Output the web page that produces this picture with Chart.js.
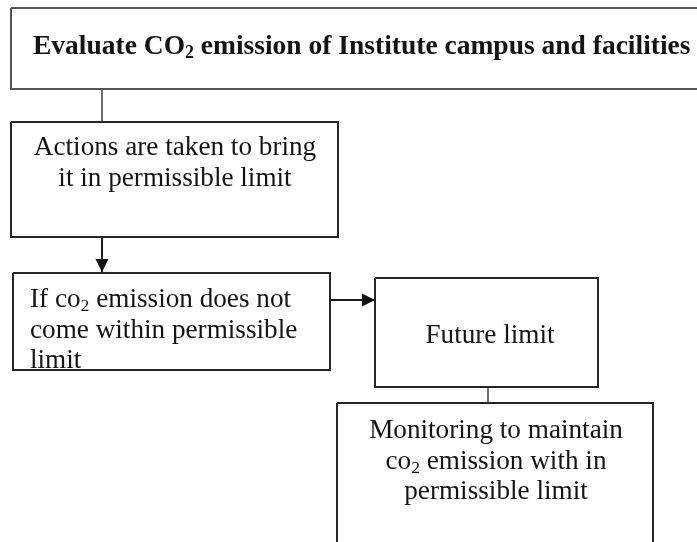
<!DOCTYPE html>
<html>
<head>
<meta charset="utf-8">
<style>
  html, body { margin: 0; padding: 0; background: #ffffff; }
  #wrap { width: 697px; height: 542px; position: relative; }
</style>
<script src="https://cdn.jsdelivr.net/npm/chart.js@4"></script>
</head>
<body>
<div id="wrap"><canvas id="c" width="697" height="542"></canvas></div>
<script>
// ---- Flowchart content (diagram units; y grows downward) ----
const nodeLabels = [
  ["Evaluate CO\u2082 emission of Institute campus and facilities"],
  ["Actions are taken to bring", "it in permissible limit"],
  ["If co\u2082 emission does not", "come within permissible", "limit"],
  ["Future limit"],
  ["Monitoring to maintain", "co\u2082 emission with in", "permissible limit"]
];
const nodeLeft   = [11, 11, 13, 375, 337];
const nodeTop    = [8, 122, 273, 278, 403];
const nodeRight  = [720, 338, 330, 598, 653];
const nodeBottom = [89, 237, 370, 387, 560];
const nodeAlign  = ["left", "center", "left", "center", "center"];
const nodeBold   = [true, false, false, false, false];
const textX      = [33, 175, 30, 490, 496];
const firstBaseline = [54, 155, 307, 343, 438];

// connectors: [fromX, fromY] -> [toX, toY], arrow flag
const linkFrom  = [[102, 89], [102, 237], [330, 300], [488, 387]];
const linkTo    = [[102, 122], [102, 272], [375, 300], [488, 403]];
const linkArrow = [false, true, true, false];
const linkGray  = [true, false, false, true];

// ---- datasets built from the arrays ----
const datasets = [];
for (let i = 0; i < nodeLabels.length; i++) {
  datasets.push({
    label: "box" + i,
    data: [
      {x: nodeLeft[i], y: nodeTop[i]},
      {x: nodeRight[i], y: nodeTop[i]},
      {x: nodeRight[i], y: nodeBottom[i]},
      {x: nodeLeft[i], y: nodeBottom[i]},
      {x: nodeLeft[i], y: nodeTop[i]}
    ],
    showLine: true,
    borderColor: i === 0 ? "#555555" : "#262626",
    borderWidth: 2,
    pointRadius: 0,
    fill: false,
    tension: 0
  });
}
for (let j = 0; j < linkFrom.length; j++) {
  datasets.push({
    label: "link" + j,
    data: [{x: linkFrom[j][0], y: linkFrom[j][1]}, {x: linkTo[j][0], y: linkTo[j][1]}],
    showLine: true,
    borderColor: linkGray[j] ? "#6e6e6e" : "#1a1a1a",
    borderWidth: 2,
    pointRadius: 0,
    fill: false
  });
}

const flowPlugin = {
  id: "flowText",
  afterDatasetsDraw(chart) {
    const ctx = chart.ctx;
    const sx = chart.scales.x, sy = chart.scales.y;
    ctx.save();
    // arrowheads
    ctx.fillStyle = "#111111";
    for (let j = 0; j < linkFrom.length; j++) {
      if (!linkArrow[j]) continue;
      const x0 = sx.getPixelForValue(linkFrom[j][0]), y0 = sy.getPixelForValue(linkFrom[j][1]);
      const x1 = sx.getPixelForValue(linkTo[j][0]), y1 = sy.getPixelForValue(linkTo[j][1]);
      const ang = Math.atan2(y1 - y0, x1 - x0);
      const L = 13, W = 6.5;
      ctx.beginPath();
      ctx.moveTo(x1, y1);
      ctx.lineTo(x1 - L * Math.cos(ang) + W * Math.sin(ang), y1 - L * Math.sin(ang) - W * Math.cos(ang));
      ctx.lineTo(x1 - L * Math.cos(ang) - W * Math.sin(ang), y1 - L * Math.sin(ang) + W * Math.cos(ang));
      ctx.closePath();
      ctx.fill();
    }
    // text
    const lineH = 30.5;
    const fam = '"Liberation Serif", "Times New Roman", serif';
    ctx.fillStyle = "#141414";
    ctx.textBaseline = "alphabetic";
    ctx.textAlign = "left";
    function segs(str) { return str.split(/(\u2082)/).filter(s => s.length); }
    function measure(str, weight, size) {
      let w = 0;
      for (const s of segs(str)) {
        if (s === "\u2082") { ctx.font = weight + " " + (size * 0.65) + "px " + fam; w += ctx.measureText("2").width; }
        else { ctx.font = weight + " " + size + "px " + fam; w += ctx.measureText(s).width; }
      }
      return w;
    }
    function draw(str, x, y, weight, size) {
      let cx = x;
      for (const s of segs(str)) {
        if (s === "\u2082") {
          ctx.font = weight + " " + (size * 0.65) + "px " + fam;
          ctx.fillText("2", cx, y + 4);
          cx += ctx.measureText("2").width;
        } else {
          ctx.font = weight + " " + size + "px " + fam;
          ctx.fillText(s, cx, y);
          cx += ctx.measureText(s).width;
        }
      }
    }
    for (let i = 0; i < nodeLabels.length; i++) {
      const weight = nodeBold[i] ? "bold" : "normal";
      const size = nodeBold[i] ? 27.5 : 27.2;
      const px = sx.getPixelForValue(textX[i]);
      nodeLabels[i].forEach((line, k) => {
        const py = sy.getPixelForValue(firstBaseline[i] + k * lineH);
        let x = px;
        if (nodeAlign[i] === "center") x = px - measure(line, weight, size) / 2;
        draw(line, x, py, weight, size);
      });
    }
    ctx.restore();
  }
};

new Chart(document.getElementById("c"), {
  type: "scatter",
  data: { datasets },
  options: {
    responsive: false,
    devicePixelRatio: 1,
    animation: false,
    layout: { padding: 0 },
    plugins: { legend: { display: false }, tooltip: { enabled: false } },
    scales: {
      x: { type: "linear", min: 0, max: 697, display: false },
      y: { type: "linear", min: 0, max: 542, reverse: true, display: false }
    }
  },
  plugins: [flowPlugin]
});
</script>
</body>
</html>
